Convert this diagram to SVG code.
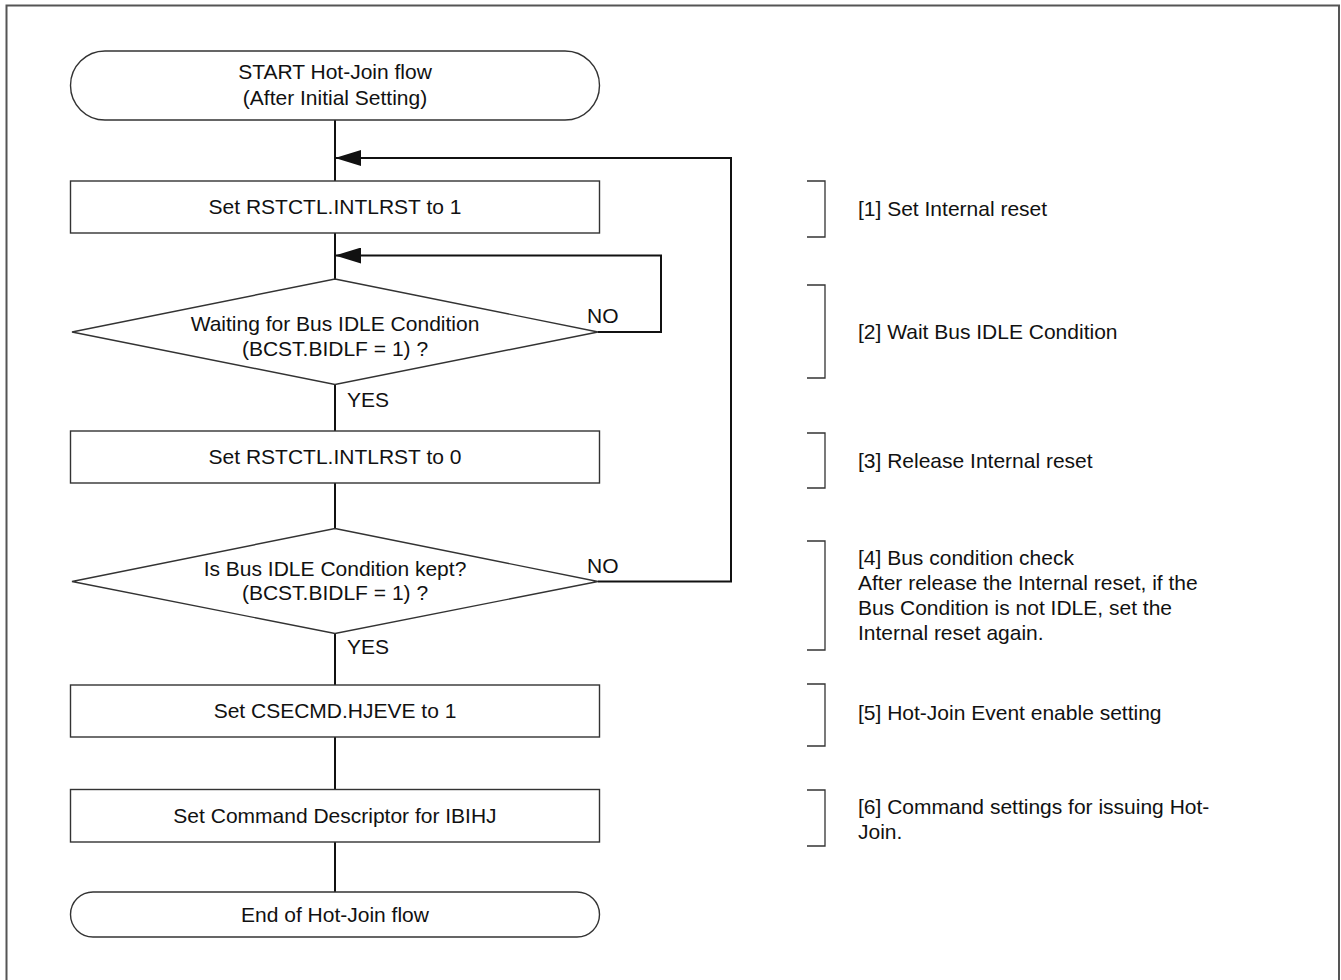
<svg xmlns="http://www.w3.org/2000/svg" width="1341" height="980" viewBox="0 0 1341 980">
<style>
.n{fill:#fff;stroke:#333;stroke-width:1.4}
.t{font-family:"Liberation Sans",Arial,sans-serif;font-size:21px;fill:#111;text-anchor:middle}
.l{font-family:"Liberation Sans",Arial,sans-serif;font-size:21px;fill:#111}
.c{fill:none;stroke:#111;stroke-width:2}
.b{fill:none;stroke:#333;stroke-width:1.3}
</style>
<defs>
<marker id="ah" markerWidth="26" markerHeight="16" refX="26" refY="8" orient="auto" markerUnits="userSpaceOnUse">
<path d="M0,0 L26,8 L0,16 Z" fill="#111"/>
</marker>
</defs>
<rect x="6.5" y="5.5" width="1332.5" height="1000" fill="none" stroke="#555" stroke-width="2"/>
<g id="connectors">
<line class="c" x1="335" y1="120" x2="335" y2="279"/>
<line class="c" x1="335" y1="384" x2="335" y2="528"/>
<line class="c" x1="335" y1="634" x2="335" y2="892"/>
<path class="c" d="M598,332 H661 V255.5 H335" marker-end="url(#ah)"/>
<path class="c" d="M598,581.5 H731 V158 H335" marker-end="url(#ah)"/>
<text class="l" x="587" y="323">NO</text>
<text class="l" x="587" y="573">NO</text>
<text class="l" x="347" y="407">YES</text>
<text class="l" x="347" y="654">YES</text>
</g>
<g id="start">
<rect class="n" x="70.5" y="51" width="529" height="69" rx="34.5"/>
<text class="t" x="335" y="79">START Hot-Join flow</text>
<text class="t" x="335" y="105">(After Initial Setting)</text>
</g>
<g id="step1">
<rect class="n" x="70.5" y="181" width="529" height="52"/>
<text class="t" x="335" y="214">Set RSTCTL.INTLRST to 1</text>
</g>
<g id="decision1">
<polygon class="n" points="335,279 598,332 335,384.5 72,332"/>
<text class="t" x="335" y="331">Waiting for Bus IDLE Condition</text>
<text class="t" x="335" y="356">(BCST.BIDLF = 1) ?</text>
</g>
<g id="step3">
<rect class="n" x="70.5" y="431" width="529" height="52"/>
<text class="t" x="335" y="464">Set RSTCTL.INTLRST to 0</text>
</g>
<g id="decision2">
<polygon class="n" points="335,528.5 598,581.5 335,633.5 72,581.5"/>
<text class="t" x="335" y="576">Is Bus IDLE Condition kept?</text>
<text class="t" x="335" y="600">(BCST.BIDLF = 1) ?</text>
</g>
<g id="step5">
<rect class="n" x="70.5" y="685" width="529" height="52"/>
<text class="t" x="335" y="718">Set CSECMD.HJEVE to 1</text>
</g>
<g id="step6">
<rect class="n" x="70.5" y="789.5" width="529" height="52.5"/>
<text class="t" x="335" y="823">Set Command Descriptor for IBIHJ</text>
</g>
<g id="end">
<rect class="n" x="70.5" y="892" width="529" height="45" rx="22.5"/>
<text class="t" x="335" y="922">End of Hot-Join flow</text>
</g>
<g id="notes">
<path class="b" d="M807,181 H825 V237 H807"/>
<text class="l" x="858" y="216">[1] Set Internal reset</text>
<path class="b" d="M807,285 H825 V378 H807"/>
<text class="l" x="858" y="339">[2] Wait Bus IDLE Condition</text>
<path class="b" d="M807,433 H825 V488 H807"/>
<text class="l" x="858" y="468">[3] Release Internal reset</text>
<path class="b" d="M807,541 H825 V650 H807"/>
<text class="l" x="858" y="565">[4] Bus condition check</text>
<text class="l" x="858" y="590">After release the Internal reset, if the</text>
<text class="l" x="858" y="615">Bus Condition is not IDLE, set the</text>
<text class="l" x="858" y="640">Internal reset again.</text>
<path class="b" d="M807,684 H825 V746 H807"/>
<text class="l" x="858" y="720">[5] Hot-Join Event enable setting</text>
<path class="b" d="M807,790 H825 V846 H807"/>
<text class="l" x="858" y="814">[6] Command settings for issuing Hot-</text>
<text class="l" x="858" y="839">Join.</text>
</g>
</svg>
